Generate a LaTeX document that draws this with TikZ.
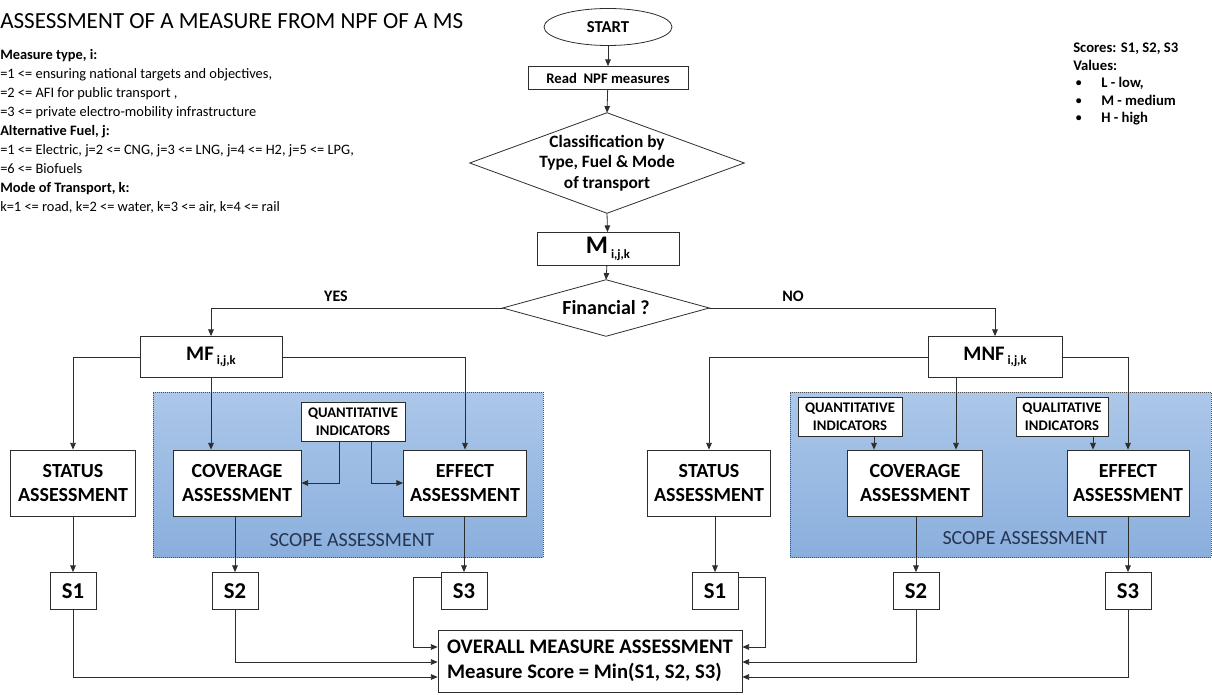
\documentclass[tikz,border=0pt]{standalone}
\usepackage{fontspec}
\setmainfont{Carlito}
\usetikzlibrary{arrows.meta,calc,shapes.geometric}
\definecolor{ln}{RGB}{45,45,45}
\definecolor{bluetop}{RGB}{172,199,233}
\definecolor{bluebot}{RGB}{138,175,221}
\definecolor{scopetxt}{RGB}{38,52,82}
\newcommand{\legbul}{\makebox[21pt][l]{\hspace{2pt}\raisebox{0.8pt}{\scalebox{0.8}{\textbullet}}}}
\begin{document}
\begin{tikzpicture}[x=0.75pt,y=-0.75pt,
  box/.style={draw=ln, line width=0.6pt, fill=white, rectangle, align=center, inner sep=1pt},
  conn/.style={draw=ln, line width=0.6pt, -{Triangle[length=5pt,width=4.2pt]}},
  big/.style={font=\fontsize{15}{18}\selectfont\bfseries},
  ind/.style={font=\fontsize{11}{13.5}\selectfont\bfseries},
  sbox/.style={box, minimum width=34.5pt, minimum height=27.75pt, font=\fontsize{17}{20}\selectfont\bfseries},
  scopebox/.style={draw=black!70, densely dotted, line width=0.5pt, top color=bluetop, bottom color=bluebot, inner sep=0pt},
  scopelbl/.style={text=scopetxt, font=\fontsize{15}{18}\selectfont, inner sep=0pt},
  lbl/.style={font=\fontsize{12}{14}\selectfont\bfseries, inner sep=0pt}
]
\useasboundingbox (0,0) rectangle (1212,695);

% ---------- texts ----------
\node[anchor=base west, inner sep=0pt, font=\fontsize{17.3}{20}\selectfont] (title) at (0,29) {ASSESSMENT OF A MEASURE FROM NPF OF A MS};
\node[anchor=north west, inner sep=0pt, align=left, font=\fontsize{10.8}{14.25}\selectfont] (info) at (0,49)
 {\textbf{Measure type, i:}\\
  =1 <= ensuring national targets and objectives,\\
  =2 <= AFI for public transport ,\\
  =3 <= private electro-mobility infrastructure\\
  \textbf{Alternative Fuel, j:}\\
  =1 <= Electric, j=2 <= CNG, j=3 <= LNG, j=4 <= H2, j=5 <= LPG,\\
  =6 <= Biofuels\\
  \textbf{Mode of Transport, k:}\\
  k=1 <= road, k=2 <= water, k=3 <= air, k=4 <= rail};
\node[anchor=north west, inner sep=0pt, align=left, font=\fontsize{11}{13.1}\selectfont\bfseries] (legend) at (1073,43)
 {Scores: S1, S2, S3\\
  Values:\\
  \legbul L - low,\\
  \legbul M - medium\\
  \legbul H - high};

% ---------- scope areas ----------
\node[scopebox, minimum width=292.5pt, minimum height=123.75pt] (blueL) at (348,474.5) {};
\node[scopelbl] (scopeL) at (352,540) {SCOPE ASSESSMENT};
\node[scopebox, minimum width=315.75pt, minimum height=123.75pt] (blueR) at (1000.5,474.5) {};
\node[scopelbl] (scopeR) at (1025,538) {SCOPE ASSESSMENT};

% ---------- main column ----------
\node[draw=ln, line width=0.6pt, ellipse, minimum width=96pt, minimum height=27.75pt, inner sep=0pt, font=\fontsize{12.5}{14}\selectfont\bfseries] (start) at (608,27) {START};
\node[box, minimum width=120pt, minimum height=17.25pt, font=\fontsize{11}{13}\selectfont\bfseries] (read) at (608,78) {Read\ \ NPF measures};
\node[inner sep=0pt, minimum width=205.5pt, minimum height=75pt, align=center, font=\fontsize{13}{15.5}\selectfont\bfseries] (class) at (607,163) {Classification by\\Type, Fuel \& Mode\\of transport};
\draw[ln, line width=0.6pt] (class.north) -- (class.east) -- (class.south) -- (class.west) -- cycle;
\node[box, minimum width=106.5pt, minimum height=24.75pt] (Mbox) at (608,249) {{\fontsize{19}{20}\selectfont\bfseries M}\ \raisebox{-4pt}{\fontsize{9.5}{11}\selectfont\bfseries i,j,k}};
\node[inner sep=0pt, minimum width=154.5pt, minimum height=42pt, font=\fontsize{15}{18}\selectfont\bfseries] (fin) at (606,308) {Financial ?};
\draw[ln, line width=0.6pt] (fin.north) -- (fin.east) -- (fin.south) -- (fin.west) -- cycle;
\node[lbl] (yes) at (336,296) {YES};
\node[lbl] (no) at (793,296) {NO};

% ---------- left branch ----------
\node[box, minimum width=106.5pt, minimum height=30.75pt] (MF) at (211,357) {{\fontsize{15.5}{18}\selectfont\bfseries MF}\ \raisebox{-3.5pt}{\fontsize{9.5}{11}\selectfont\bfseries i,j,k}};
\node[box, big, minimum width=93.75pt, minimum height=49.5pt] (statusL) at (73,483) {STATUS\\ASSESSMENT};
\node[box, big, minimum width=96pt, minimum height=49.5pt] (covL) at (237,483) {COVERAGE\\ASSESSMENT};
\node[box, big, minimum width=92.25pt, minimum height=49.5pt] (effL) at (465,483) {EFFECT\\ASSESSMENT};
\node[box, ind, minimum width=78pt, minimum height=29.25pt] (quantL) at (353,422) {QUANTITATIVE\\INDICATORS};
\node[sbox] (S1L) at (73,591) {S1};
\node[sbox] (S2L) at (235,591) {S2};
\node[sbox] (S3L) at (464,591) {S3};

% ---------- right branch ----------
\node[box, minimum width=100.5pt, minimum height=30.75pt] (MNF) at (995,357) {{\fontsize{15.5}{18}\selectfont\bfseries MNF}\ \raisebox{-3.5pt}{\fontsize{9.5}{11}\selectfont\bfseries i,j,k}};
\node[box, big, minimum width=92.25pt, minimum height=49.5pt] (statusR) at (709,483) {STATUS\\ASSESSMENT};
\node[box, big, minimum width=101.25pt, minimum height=49.5pt] (covR) at (915,483) {COVERAGE\\ASSESSMENT};
\node[box, big, minimum width=91.5pt, minimum height=49.5pt] (effR) at (1128,483) {EFFECT\\ASSESSMENT};
\node[box, ind, minimum width=78pt, minimum height=29.25pt] (quantR) at (850,417) {QUANTITATIVE\\INDICATORS};
\node[box, ind, minimum width=69pt, minimum height=29.25pt] (qualR) at (1062,417) {QUALITATIVE\\INDICATORS};
\node[sbox] (S1R) at (715,591) {S1};
\node[sbox] (S2R) at (916,591) {S2};
\node[sbox] (S3R) at (1128,591) {S3};

% ---------- overall ----------
\node[box, minimum width=228pt, minimum height=46.5pt, align=left, font=\fontsize{15.5}{19}\selectfont\bfseries] (overall) at (590,661) {OVERALL MEASURE ASSESSMENT\\Measure Score = Min(S1, S2, S3)};

% ---------- connectors: main ----------
\draw[conn] (start) -- (read);
\draw[conn] (read) -- (class.north);
\draw[conn] (class.south) -- (Mbox);
\draw[conn] (Mbox) -- (fin.north);
\draw[conn] (fin.west) -| (MF.north);
\draw[conn] (fin.east) -| (MNF.north);

% ---------- connectors: left ----------
\draw[conn] (MF.west) -| (statusL.north);
\draw[conn] (MF.south) -- (MF.south |- covL.north);
\draw[conn] (MF.east) -| (effL.north);
\coordinate (qLa) at ($(quantL.south)+(-14,0)$);
\coordinate (qLb) at ($(quantL.south)+(18,0)$);
\draw[conn] (qLa) |- (covL.east);
\draw[conn] (qLb) |- (effL.west);
\draw[conn] (statusL) -- (S1L);
\draw[conn] (S2L.north |- covL.south) -- (S2L.north);
\draw[conn] (S3L.north |- effL.south) -- (S3L.north);
\draw[conn] (S1L.south) |- ($(overall.west)+(0,16)$);
\draw[conn] (S2L.south) |- ($(overall.west)+(0,1)$);
\draw[conn] ($(S3L.north west)+(0,5)$) -- ++(-27,0) |- ($(overall.west)+(0,-14)$);

% ---------- connectors: right ----------
\draw[conn] (MNF.west) -| (statusR.north);
\coordinate (mnfs) at ($(MNF.south)+(-39,0)$);
\draw[conn] (mnfs) -- (mnfs |- covR.north);
\draw[conn] (MNF.east) -| (effR.north);
\coordinate (qRs) at ($(quantR.south)+(24,0)$);
\draw[conn] (qRs) -- (qRs |- covR.north);
\coordinate (qlRs) at ($(qualR.south)+(31,0)$);
\draw[conn] (qlRs) -- (qlRs |- effR.north);
\draw[conn] (S1R.north |- statusR.south) -- (S1R.north);
\draw[conn] (S2R.north |- covR.south) -- (S2R.north);
\draw[conn] (S3R.north |- effR.south) -- (S3R.north);
\draw[conn] ($(S1R.north east)+(0,5)$) -- ++(27,0) |- ($(overall.east)+(0,-14)$);
\draw[conn] (S2R.south) |- ($(overall.east)+(0,1)$);
\draw[conn] (S3R.south) |- ($(overall.east)+(0,16)$);
\end{tikzpicture}
\end{document}
